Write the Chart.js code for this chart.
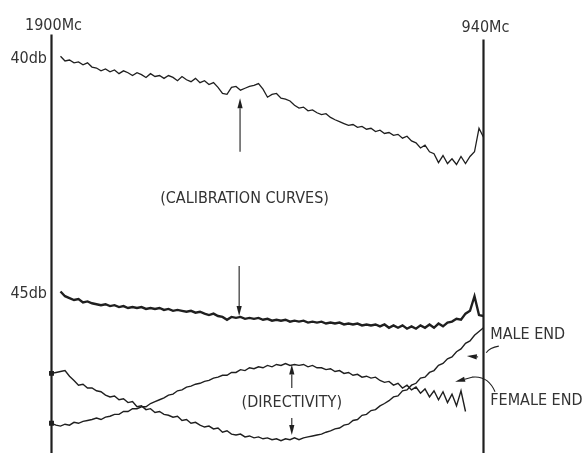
<!DOCTYPE html>
<html><head><meta charset="utf-8">
<script src="https://cdn.jsdelivr.net/npm/chart.js@4"></script>
<style>html,body{margin:0;padding:0;background:#fff;overflow:hidden}</style>
</head><body><canvas id="c" width="583" height="453"></canvas>
<script>
// Frequency sweep (Mc), left = 1900, right = 940
const freq = [1900,1890,1880,1870,1860,1850,1840,1830,1820,1810,
1800,1790,1780,1770,1760,1750,1740,1730,1720,1710,
1700,1690,1680,1670,1660,1650,1640,1630,1620,1610,
1600,1590,1580,1570,1560,1550,1540,1530,1520,1510,
1500,1490,1480,1470,1460,1450,1440,1430,1420,1410,
1400,1390,1380,1370,1360,1350,1340,1330,1320,1310,
1300,1290,1280,1270,1260,1250,1240,1230,1220,1210,
1200,1190,1180,1170,1160,1150,1140,1130,1120,1110,
1100,1090,1080,1070,1060,1050,1040,1030,1020,1010,
1000,990,980,970,960,950,940];

// Calibration curve near 40 db
const calib40 = [null,null,39.94,40.04,40.02,40.08,40.06,40.12,40.08,40.17,
40.19,40.25,40.21,40.27,40.23,40.31,40.25,40.29,40.35,40.29,
40.33,40.39,40.31,40.37,40.35,40.41,40.35,40.39,40.46,40.37,
40.44,40.48,40.41,40.50,40.46,40.54,40.50,40.60,40.73,40.75,
40.60,40.58,40.66,40.62,40.58,40.56,40.52,40.64,40.81,40.75,
40.73,40.83,40.85,40.89,40.98,41.04,41.02,41.10,41.08,41.14,
41.18,41.16,41.24,41.29,41.33,41.37,41.41,41.39,41.45,41.43,
41.49,41.47,41.54,41.51,41.58,41.56,41.62,41.60,41.68,41.64,
41.74,41.78,41.89,41.83,41.97,42.01,42.20,42.05,42.22,42.12,
42.24,42.07,42.22,42.07,41.97,41.47,41.66];

// Calibration curve near 45 db
const calib45 = [null,null,44.94,45.04,45.08,45.12,45.10,45.17,45.15,45.19,
45.21,45.23,45.21,45.25,45.23,45.27,45.25,45.29,45.27,45.29,
45.27,45.31,45.29,45.31,45.29,45.33,45.31,45.35,45.33,45.35,
45.37,45.35,45.39,45.37,45.41,45.44,45.41,45.46,45.48,45.54,
45.48,45.50,45.48,45.52,45.50,45.52,45.50,45.54,45.52,45.56,
45.54,45.56,45.54,45.58,45.56,45.58,45.56,45.60,45.58,45.60,
45.58,45.62,45.60,45.62,45.60,45.64,45.62,45.64,45.62,45.66,
45.64,45.66,45.64,45.68,45.64,45.71,45.66,45.71,45.66,45.73,
45.68,45.73,45.66,45.71,45.64,45.71,45.62,45.68,45.60,45.58,
45.52,45.54,45.41,45.35,45.04,45.44,45.46];

// Directivity, male end
const maleEnd = [46.68,46.66,46.64,46.62,46.74,46.83,46.93,46.91,46.99,46.99,
47.05,47.07,47.14,47.18,47.16,47.24,47.22,47.30,47.28,47.39,
47.37,47.45,47.43,47.51,47.49,47.55,47.57,47.61,47.59,47.68,
47.66,47.74,47.72,47.78,47.82,47.80,47.86,47.84,47.93,47.90,
47.97,47.99,47.97,48.03,48.01,48.05,48.03,48.07,48.05,48.09,
48.07,48.11,48.07,48.09,48.05,48.09,48.05,48.03,48.01,47.99,
47.97,47.93,47.90,47.86,47.84,47.78,47.76,47.68,47.66,47.57,
47.55,47.47,47.45,47.37,47.32,47.26,47.18,47.16,47.05,47.03,
46.93,46.89,46.78,46.76,46.66,46.62,46.51,46.47,46.37,46.33,
46.22,46.16,46.04,45.99,45.87,45.79,45.71];

// Directivity, female end
const femaleEnd = [47.74,47.78,47.80,47.76,47.78,47.72,47.74,47.70,47.68,47.66,
47.63,47.66,47.61,47.59,47.55,47.55,47.49,47.49,47.43,47.43,
47.39,47.39,47.32,47.28,47.24,47.20,47.14,47.12,47.05,47.03,
46.97,46.95,46.91,46.89,46.85,46.83,46.78,46.76,46.72,46.72,
46.66,46.66,46.60,46.62,46.56,46.58,46.54,46.56,46.51,46.54,
46.49,46.51,46.47,46.51,46.49,46.51,46.49,46.54,46.51,46.56,
46.56,46.60,46.58,46.64,46.62,46.68,46.66,46.72,46.70,46.76,
46.74,46.78,46.76,46.83,46.87,46.85,46.93,46.89,46.99,46.93,
47.03,46.97,47.10,47.01,47.18,47.05,47.24,47.07,47.30,47.12,
47.37,47.05,47.49,null,null,null,null];

const INK = '#1f1f1f';
const TXT = '#333333';
const FONT = '"DejaVu Sans Condensed","Liberation Sans Narrow","DejaVu Sans",sans-serif';

// Annotation text, in (Mc, db)
const labels = [
  {t:'1900Mc', x:1895.5, y:39.30, a:'center'},
  {t:'940Mc', x:935.5, y:39.34, a:'center'},
  {t:'40db', x:1910, y:40.0, a:'right'},
  {t:'45db', x:1910, y:44.98, a:'right'},
  {t:'(CALIBRATION CURVES)', x:1471, y:42.97, a:'center'},
  {t:'(DIRECTIVITY)', x:1366, y:47.30, a:'center'},
  {t:'MALE END', x:925, y:45.85, a:'left'},
  {t:'FEMALE END', x:925, y:47.26, a:'left'}
];
// Straight arrows: from (x1,y1) to tip (x2,y2)
const arrows = [
  {x1:1481, y1:41.97, x2:1481, y2:40.83},
  {x1:1483, y1:44.40, x2:1483, y2:45.46},
  {x1:1366, y1:46.99, x2:1366, y2:46.49},
  {x1:1366, y1:47.63, x2:1366, y2:47.99},
  {x1:952, y1:46.33, x2:977, y2:46.31},
  {x1:965.6, y1:46.76, x2:1003, y2:46.86}
];
// Curved leaders: start, control, end
const leaders = [
  {x1:906, y1:46.10, cx:926, cy:46.13, x2:934, y2:46.24},
  {x1:914.4, y1:47.07, cx:930, cy:46.72, x2:965.6, y2:46.76}
];
// Frame lines (frequency edges)
const frame = [
  {x:1900, top:39.48},
  {x:940, top:39.585}
];

function pts(v){ return freq.map((f,i)=>({x:f, y:v[i]})); }
function ds(v, w, startMark){
  return {data:pts(v), borderColor:INK, backgroundColor:INK, borderWidth:w,
    pointRadius:(c)=> (startMark && c.dataIndex===0) ? 2.5 : 0,
    pointStyle:'rect', tension:0, spanGaps:false, clip:false};
}

const deco = {
  id:'deco',
  afterDatasetsDraw(chart){
    const ctx = chart.ctx, xs = chart.scales.x, ys = chart.scales.y;
    const X = v=>xs.getPixelForValue(v), Y = v=>ys.getPixelForValue(v);
    ctx.save();
    ctx.strokeStyle = INK; ctx.lineWidth = 2.2;
    frame.forEach(f=>{
      ctx.beginPath(); ctx.moveTo(X(f.x), Y(f.top)); ctx.lineTo(X(f.x), chart.height); ctx.stroke();
    });
    ctx.lineWidth = 1.1;
    arrows.forEach(a=>{
      const x1=X(a.x1), y1=Y(a.y1), x2=X(a.x2), y2=Y(a.y2);
      const ang = Math.atan2(y2-y1, x2-x1), L=10, H=2.6;
      const bx = x2 - L*Math.cos(ang), by = y2 - L*Math.sin(ang);
      ctx.beginPath(); ctx.moveTo(x1,y1); ctx.lineTo(bx,by); ctx.stroke();
      ctx.beginPath(); ctx.moveTo(x2,y2);
      ctx.lineTo(bx + H*Math.sin(ang), by - H*Math.cos(ang));
      ctx.lineTo(bx - H*Math.sin(ang), by + H*Math.cos(ang));
      ctx.closePath(); ctx.fillStyle = INK; ctx.fill();
    });
    leaders.forEach(l=>{
      ctx.beginPath(); ctx.moveTo(X(l.x1),Y(l.y1)); ctx.quadraticCurveTo(X(l.cx),Y(l.cy),X(l.x2),Y(l.y2)); ctx.stroke();
    });
    ctx.fillStyle = TXT; ctx.font = '16px ' + FONT; ctx.textBaseline = 'middle';
    labels.forEach(l=>{ ctx.textAlign = l.a; ctx.fillText(l.t, X(l.x), Y(l.y)); });
    ctx.restore();
  }
};

new Chart(document.getElementById('c'), {
  type:'line',
  data:{ datasets:[
    ds(calib40, 1.3, false),
    ds(calib45, 2.4, false),
    ds(maleEnd, 1.4, true),
    ds(femaleEnd, 1.4, true)
  ]},
  options:{
    responsive:false, animation:false, devicePixelRatio:1,
    layout:{padding:{left:51.5, right:99.5, top:0, bottom:0}},
    plugins:{legend:{display:false}, tooltip:{enabled:false}},
    scales:{
      x:{type:'linear', reverse:true, min:940, max:1900, display:false},
      y:{type:'linear', reverse:true, min:38.859, max:48.257, display:false}
    }
  },
  plugins:[deco]
});
</script></body></html>
